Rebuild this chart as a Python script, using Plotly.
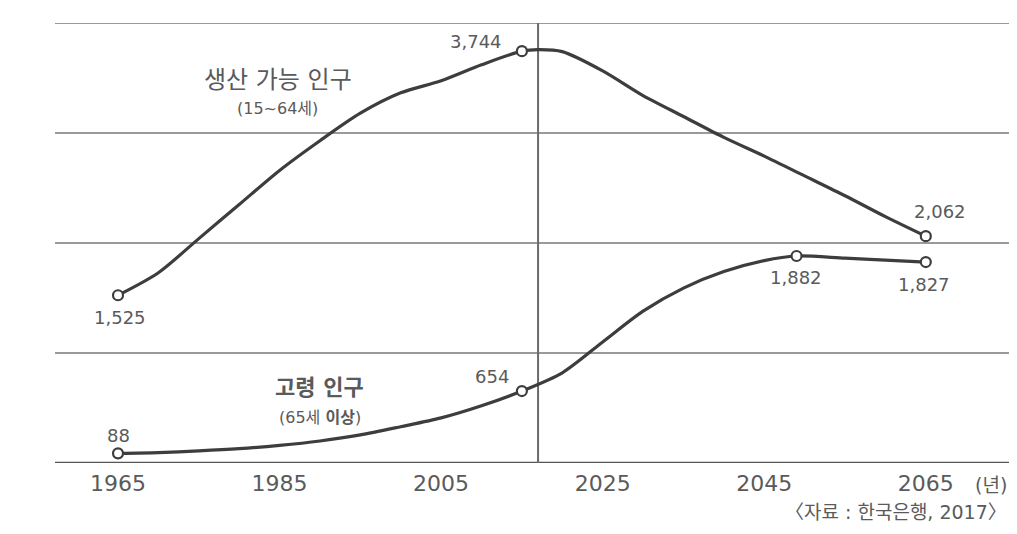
import plotly.graph_objects as go

# Working-age population (15~64), 만 명 — curve
work_years = [1965, 1970, 1975, 1980, 1985, 1990, 1995, 2000, 2005, 2010, 2015,
              2017, 2020, 2025, 2030, 2035, 2040, 2045, 2050, 2055, 2060, 2065]
work_vals = [1525, 1730, 2040, 2350, 2660, 2930, 3180, 3365, 3475, 3620, 3744,
             3758, 3740, 3565, 3340, 3150, 2960, 2790, 2610, 2430, 2240, 2062]

# Elderly population (65+)
old_years = [1965, 1970, 1975, 1980, 1985, 1990, 1995, 2000, 2005, 2010, 2015,
             2020, 2025, 2030, 2035, 2040, 2045, 2049, 2055, 2060, 2065]
old_vals = [88, 95, 110, 130, 160, 200, 255, 330, 410, 520, 654,
            820, 1100, 1380, 1590, 1740, 1840, 1882, 1862, 1845, 1827]

# Labelled points
work_pts_x = [1965, 2015, 2065]
work_pts_y = [1525, 3744, 2062]
work_pts_txt = ["1,525", "3,744", "2,062"]
old_pts_x = [1965, 2015, 2049, 2065]
old_pts_y = [88, 654, 1882, 1827]
old_pts_txt = ["88", "654", "1,882", "1,827"]

tick_years = [1965, 1985, 2005, 2025, 2045, 2065]
tick_text = ["1965", "1985", "2005", "2025", "2045", "2065"]
grid_vals = [1000, 2000, 3000, 4000]
ref_year = 2017

LINE = "#3d3d3d"
TEXT = "#5a5a5a"
FONT = "DejaVu Sans, Noto Sans CJK KR, sans-serif"

fig = go.Figure()
for xs, ys in [(work_years, work_vals), (old_years, old_vals)]:
    fig.add_trace(go.Scatter(x=xs, y=ys, mode="lines",
                             line=dict(color=LINE, width=3.2, shape="spline", smoothing=0.8),
                             hoverinfo="skip", showlegend=False))
for xs, ys in [(work_pts_x, work_pts_y), (old_pts_x, old_pts_y)]:
    fig.add_trace(go.Scatter(x=xs, y=ys, mode="markers",
                             marker=dict(symbol="circle", size=10, color="white",
                                         line=dict(color=LINE, width=2.2)),
                             showlegend=False))

# value labels (offsets in px from their point)
offsets_work = [(2, -22), (-46, 10), (14, 25)]
offsets_old = [(0, 18), (-30, 15), (-1, -22), (-2, -22)]
for xs, ys, txts, offs in [(work_pts_x, work_pts_y, work_pts_txt, offsets_work),
                           (old_pts_x, old_pts_y, old_pts_txt, offsets_old)]:
    for x, y, t, (dx, dy) in zip(xs, ys, txts, offs):
        fig.add_annotation(x=x, y=y, xref="x", yref="y", text=t, showarrow=False,
                           xshift=dx, yshift=dy,
                           font=dict(family=FONT, size=18, color=TEXT))

# horizontal gridlines
for g in grid_vals:
    fig.add_shape(type="line", xref="paper", yref="y", x0=0, x1=1, y0=g, y1=g,
                  line=dict(color="#9a9a9a", width=2), layer="below")
# baseline
fig.add_shape(type="line", xref="paper", yref="y", x0=0, x1=1, y0=0, y1=0,
              line=dict(color="#555555", width=2.5), layer="below")
# reference vertical line
fig.add_shape(type="line", xref="x", yref="y", x0=ref_year, x1=ref_year, y0=0, y1=4000,
              line=dict(color="#6a6a6a", width=2), layer="below")

anns = [
    dict(x=1984.8, y=3482, text="생산 가능 인구", size=24),
    dict(x=1984.8, y=3227, text="(15~64세)", size=16),
    dict(x=1990.0, y=682, text="<b>고령 인구</b>", size=22),
    dict(x=1990.0, y=418, text="(65세 <b>이상</b>)", size=16),
]
for a in anns:
    fig.add_annotation(x=a["x"], y=a["y"], xref="x", yref="y", text=a["text"],
                       showarrow=False, font=dict(family=FONT, size=a["size"], color=TEXT))

fig.add_annotation(x=1.0, y=-0.05, xref="paper", yref="paper", xanchor="right",
                   yanchor="middle", text="(년)", showarrow=False,
                   font=dict(family=FONT, size=19, color=TEXT))
fig.add_annotation(x=1.0, y=-0.141, xref="paper", yref="paper", xanchor="right",
                   yanchor="bottom", text="〈자료 : 한국은행, 2017〉", showarrow=False,
                   font=dict(family=FONT, size=19, color=TEXT))

fig.update_layout(
    width=1001, height=518,
    margin=dict(l=47, r=0, t=15, b=63),
    paper_bgcolor="white", plot_bgcolor="white",
    xaxis=dict(range=[1957.2, 2075.3], tickvals=tick_years, ticktext=tick_text,
               showgrid=False, zeroline=False, showline=False, ticks="",
               ticklabelstandoff=5,
               tickfont=dict(family=FONT, size=22, color=TEXT)),
    yaxis=dict(range=[0, 4000], showgrid=False, zeroline=False, showline=False,
               showticklabels=False, ticks=""),
)

fig.write_html("out.html")
